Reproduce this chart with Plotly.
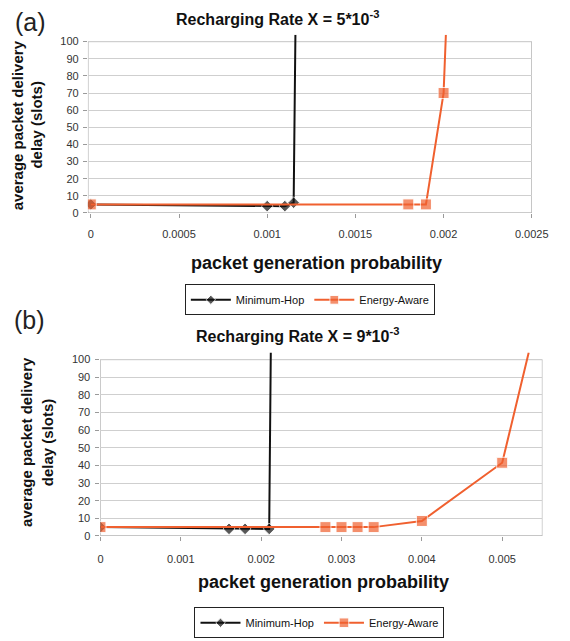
import plotly.graph_objects as go

# ---------------- data ----------------
# panel (a): recharging rate 5e-3
a_hop_x = [0, 0.001, 0.0011, 0.00115, 0.00116]
a_hop_y = [5, 4, 4, 6, 104]
a_ea_x = [0, 0.0018, 0.0019, 0.002, 0.002013]
a_ea_y = [5, 5, 5, 70, 104]
a_xticks = [0, 0.0005, 0.001, 0.0015, 0.002, 0.0025]
a_xticklabels = ["0", "0.0005", "0.001", "0.0015", "0.002", "0.0025"]

# panel (b): recharging rate 9e-3
b_hop_x = [0, 0.0016, 0.0018, 0.0021, 0.00212]
b_hop_y = [5, 4, 4, 4, 104]
b_ea_x = [0, 0.0028, 0.003, 0.0032, 0.0034, 0.004, 0.005, 0.00533]
b_ea_y = [5, 5, 5, 5, 5, 8.5, 41.5, 104]
b_xticks = [0, 0.001, 0.002, 0.003, 0.004, 0.005]
b_xticklabels = ["0", "0.001", "0.002", "0.003", "0.004", "0.005"]

y_ticks = list(range(0, 101, 10))
series_names = ["Minimum-Hop", "Energy-Aware"]
titles = ["Recharging Rate X = 5*10<sup>-3</sup>", "Recharging Rate X = 9*10<sup>-3</sup>"]
x_title = "packet generation probability"
y_title_lines = ["average packet delivery", "delay (slots)"]

# ---------------- style ----------------
W, H = 570, 641
BLACK = "#111111"
ORANGE = "#f0602f"
FONT = "Liberation Sans, Arial, sans-serif"


def px(x):
    return x / W


def py(y):
    return 1 - y / H


def sizes(n, s):
    return [s] * (n - 1) + [0]


fig = go.Figure()

panels = [
    dict(hx=a_hop_x, hy=a_hop_y, ex=a_ea_x, ey=a_ea_y, xa="x", ya="y", legend="legend",
         xr=[-0.0000164, 0.0025], xdom=[px(88), px(548)], ydom=[py(215), py(35.1)]),
    dict(hx=b_hop_x, hy=b_hop_y, ex=b_ea_x, ey=b_ea_y, xa="x2", ya="y2", legend="legend2",
         xr=[0, 0.0055], xdom=[px(101), px(559)], ydom=[py(541), py(355.9)]),
]

for p in panels:
    fig.add_trace(go.Scatter(
        x=p["hx"], y=p["hy"], xaxis=p["xa"], yaxis=p["ya"], mode="lines+markers",
        name=series_names[0], legend=p["legend"],
        line=dict(color=BLACK, width=2),
        marker=dict(symbol="diamond", size=sizes(len(p["hx"]), 9), color=BLACK),
    ))
    fig.add_trace(go.Scatter(
        x=p["ex"], y=p["ey"], xaxis=p["xa"], yaxis=p["ya"], mode="lines+markers",
        name=series_names[1], legend=p["legend"],
        line=dict(color=ORANGE, width=2),
        marker=dict(symbol="square", size=sizes(len(p["ex"]), 11), color=ORANGE),
    ))
    # plot frame (0..100)
    fig.add_shape(type="rect", xref=p["xa"], yref=p["ya"],
                  x0=p["xr"][0], x1=p["xr"][1], y0=0, y1=100,
                  line=dict(color="#9a9a9a", width=1), layer="below")

axis_common = dict(showline=False, zeroline=False, ticks="outside", ticklen=4,
                   tickcolor="#9a9a9a", tickfont=dict(family=FONT, size=11, color="#333333"))

legend_common = dict(orientation="h", xanchor="center", yanchor="top",
                     bordercolor="#222222", borderwidth=1, bgcolor="white",
                     font=dict(family=FONT, size=11, color=BLACK), itemwidth=40,
                     tracegroupgap=0)

layout = dict(
    width=W, height=H, margin=dict(l=0, r=0, t=0, b=0),
    paper_bgcolor="white", plot_bgcolor="white",
    font=dict(family=FONT, color=BLACK),
    xaxis=dict(domain=panels[0]["xdom"], range=panels[0]["xr"], anchor="y",
               tickvals=a_xticks, ticktext=a_xticklabels, showgrid=False,
               ticklabelstandoff=7, **axis_common),
    yaxis=dict(domain=panels[0]["ydom"], range=[0, 104], anchor="x",
               tickvals=y_ticks, showgrid=True, gridcolor="#cfcfcf", gridwidth=1,
               ticklabelstandoff=2, **axis_common),
    xaxis2=dict(domain=panels[1]["xdom"], range=panels[1]["xr"], anchor="y2",
                tickvals=b_xticks, ticktext=b_xticklabels, showgrid=False,
                ticklabelstandoff=9, **axis_common),
    yaxis2=dict(domain=panels[1]["ydom"], range=[0, 104], anchor="x2",
                tickvals=y_ticks, showgrid=True, gridcolor="#cfcfcf", gridwidth=1,
                ticklabelstandoff=3, **axis_common),
    legend=dict(x=px(318), y=py(287), **legend_common),
    legend2=dict(x=px(328), y=py(613), **legend_common),
    showlegend=True,
)
fig.update_layout(**layout)

ann = []
# panel labels
ann.append(dict(text="(a)", x=px(28), y=py(22), font=dict(size=25, color="#222222")))
ann.append(dict(text="(b)", x=px(27), y=py(323), font=dict(size=25, color="#222222")))
# titles
ann.append(dict(text="<b>" + titles[0] + "</b>", x=px(284), y=py(18), font=dict(size=16, color=BLACK)))
ann.append(dict(text="<b>" + titles[1] + "</b>", x=px(305), y=py(338), font=dict(size=16, color=BLACK)))
# x titles
ann.append(dict(text="<b>" + x_title + "</b>", x=px(325), y=py(265), font=dict(size=18, color=BLACK)))
ann.append(dict(text="<b>" + x_title + "</b>", x=px(332), y=py(587), font=dict(size=18, color=BLACK)))
# y titles
for (cx1, cx2, cy) in [(15, 35, 126), (25, 46, 446)]:
    ann.append(dict(text="<b>" + y_title_lines[0] + "</b>", x=px(cx1), y=py(cy), textangle=-90,
                    font=dict(size=15, color=BLACK)))
    ann.append(dict(text="<b>" + y_title_lines[1] + "</b>", x=px(cx2), y=py(cy), textangle=-90,
                    font=dict(size=15, color=BLACK)))

for a in ann:
    a.update(xref="paper", yref="paper", showarrow=False, xanchor="center", yanchor="middle")
    a["font"]["family"] = FONT
fig.update_layout(annotations=ann)

fig.write_html("out.html")
